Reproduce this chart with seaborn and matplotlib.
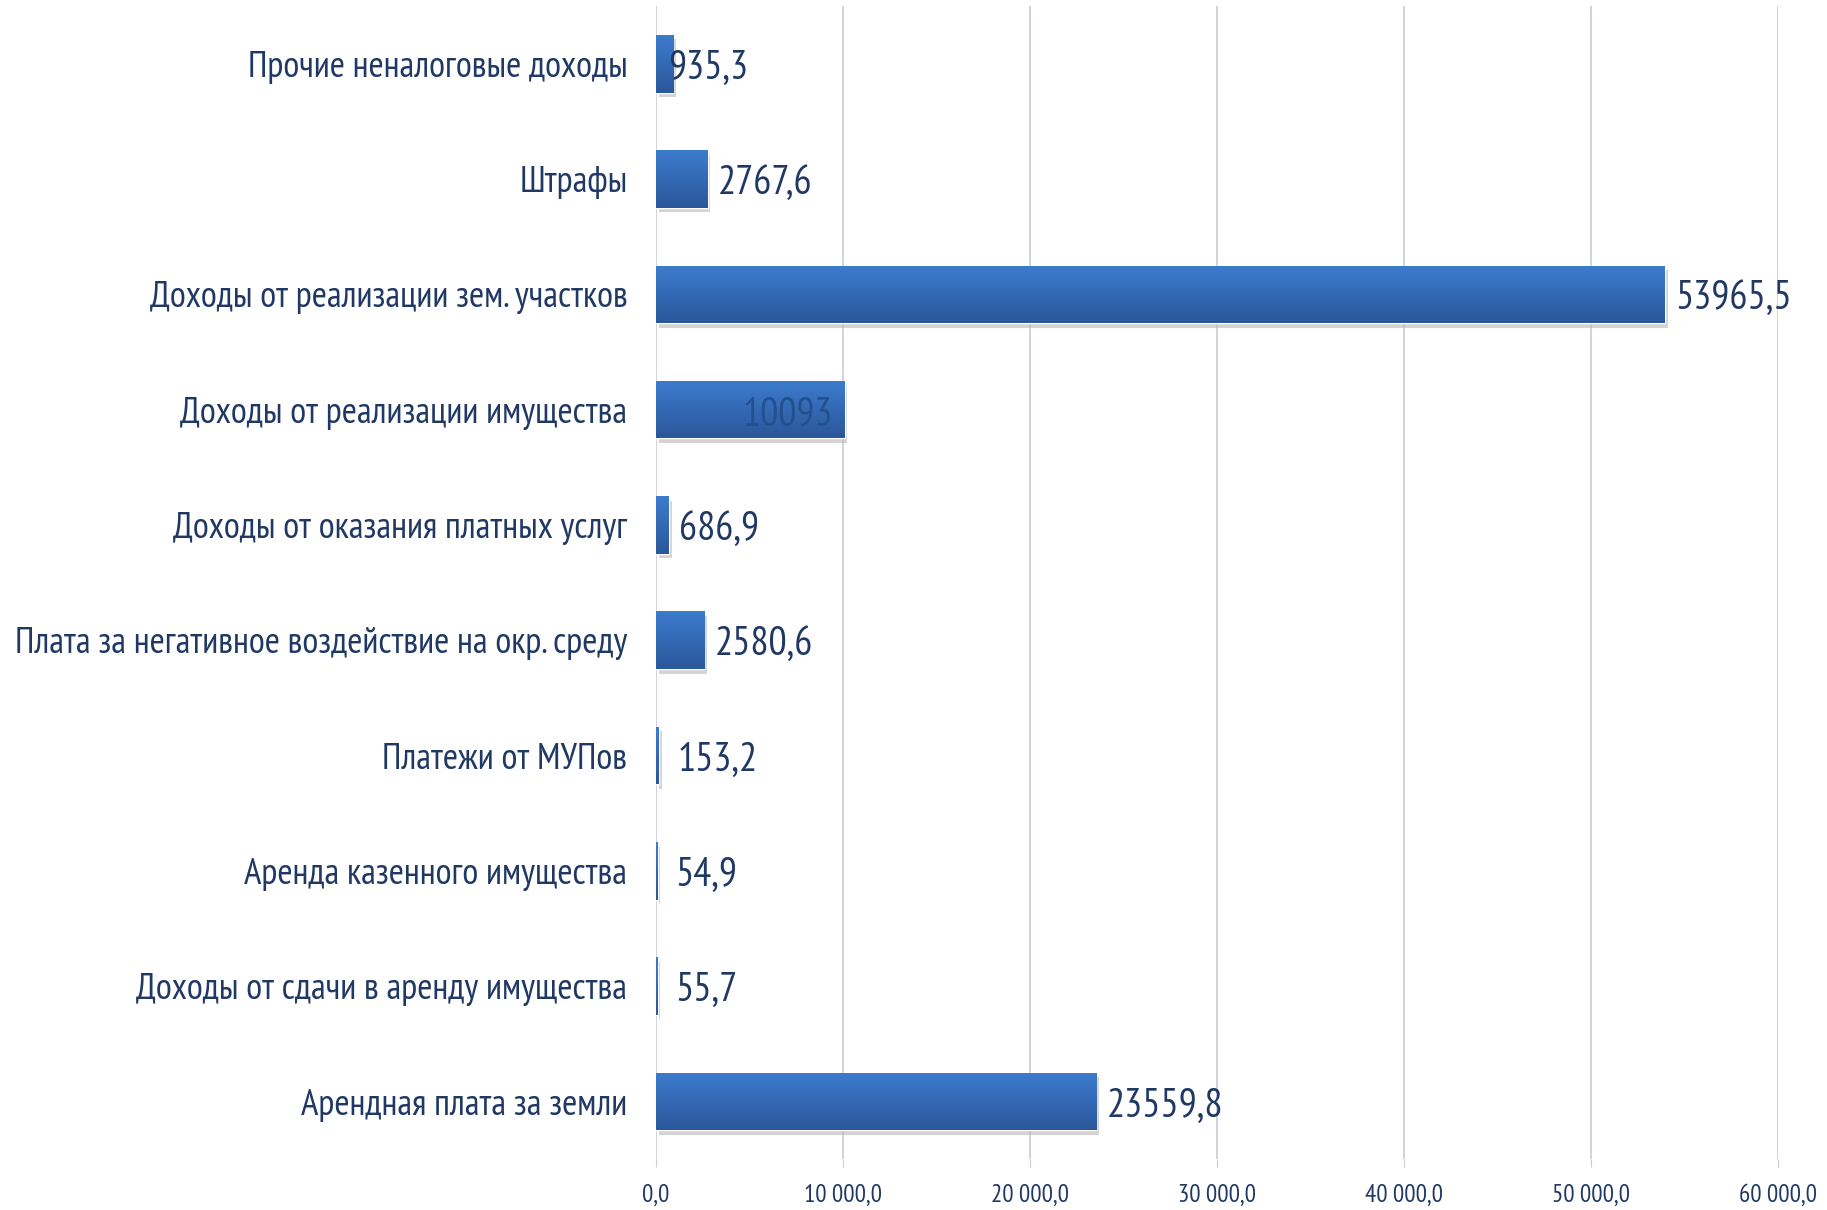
import matplotlib
matplotlib.use('Agg')
import matplotlib.pyplot as plt
import seaborn as sns
import numpy as np
import pandas as pd
from matplotlib.ticker import FuncFormatter

# данные (сверху вниз)
categories = ['Прочие неналоговые доходы', 'Штрафы', 'Доходы от реализации зем. участков',
              'Доходы от реализации имущества', 'Доходы от оказания платных услуг',
              'Плата за негативное воздействие на окр. среду', 'Платежи от МУПов',
              'Аренда казенного имущества', 'Доходы от сдачи в аренду имущества',
              'Арендная плата за земли']
values = [935.3, 2767.6, 53965.5, 10093, 686.9, 2580.6, 153.2, 54.9, 55.7, 23559.8]
value_labels = ['935,3', '2767,6', '53965,5', '10093', '686,9', '2580,6', '153,2', '54,9', '55,7', '23559,8']
x_ticks = [0, 10000, 20000, 30000, 40000, 50000, 60000]

df = pd.DataFrame({'cat': categories, 'val': values})

sns.set_style('white')
plt.rcParams['font.family'] = ['PT Sans Narrow', 'IBM Plex Sans Condensed', 'DejaVu Sans']
navy = '#1f3864'

fig = plt.figure(figsize=(18.27, 12.10), dpi=100)
ax = fig.add_axes([0.359, 0.042, 0.614, 0.953])
sns.barplot(data=df, y='cat', x='val', orient='h', color='#3571c0', width=0.5,
            saturation=1, ax=ax, zorder=3)

# градиент на столбиках
grad = np.linspace(0, 1, 50).reshape(-1, 1)
cmap = matplotlib.colors.LinearSegmentedColormap.from_list('b', ['#3c7ccd', '#2b579b'])
for p in ax.patches:
    x0, y0 = p.get_x(), p.get_y()
    w, h = p.get_width(), p.get_height()
    # тень
    sh = plt.Rectangle((x0 + 150, y0 + 0.04), w, h, color='#b8b8b8', alpha=0.6, zorder=2, lw=0)
    ax.add_patch(sh)
    im = ax.imshow(grad, cmap=cmap, aspect='auto', extent=(x0, x0 + w, y0 + h, y0),
                   zorder=4, interpolation='bicubic')
    im.set_clip_path(p)

for i, (v, lab) in enumerate(zip(values, value_labels)):
    kw = dict(va='center', fontsize=29, color=navy, zorder=5)
    if lab == '10093':
        ax.text(v - 600, i + 0.04, lab, ha='right', **{**kw, 'color': '#24508f'})
    elif lab == '935,3':
        ax.text(v - 300, i + 0.04, lab, ha='left', **kw)
    elif v < 200:
        ax.text(v + 1000, i + 0.04, lab, ha='left', **kw)
    else:
        ax.text(v + 550, i + 0.04, lab, ha='left', **kw)

ax.set_xlim(0, 60000)
ax.set_ylim(9.5, -0.5)
ax.set_xticks(x_ticks)
ax.xaxis.set_major_formatter(FuncFormatter(lambda x, p: f'{x:,.1f}'.replace(',', ' ').replace('.', ',')))
ax.grid(axis='x', color='#c8ccd8', lw=1.2, zorder=0)
for s in ax.spines.values():
    s.set_visible(False)
ax.tick_params(axis='x', bottom=True, length=6, color='#c8ccd8', labelsize=18, labelcolor=navy, pad=12)
ax.tick_params(axis='y', left=False, labelsize=26.5, labelcolor=navy, pad=17)
ax.set_xlabel('')
ax.set_ylabel('')

fig.savefig('out.png', dpi=100)
